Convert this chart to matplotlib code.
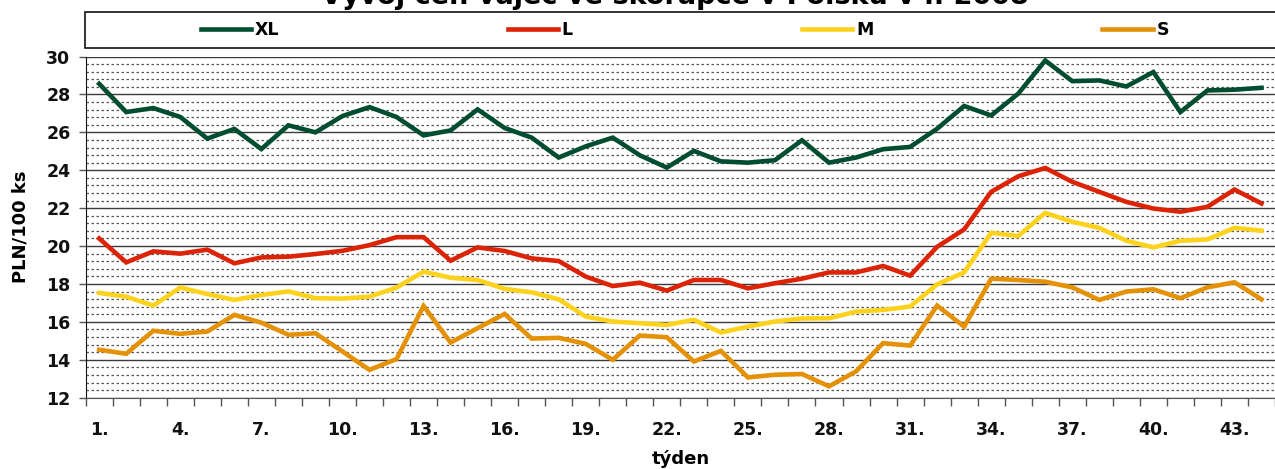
import numpy as np
import matplotlib
matplotlib.use("Agg")
import matplotlib.pyplot as plt
from matplotlib.patches import Rectangle
from matplotlib.ticker import MultipleLocator

# tydny 1..44
weeks = list(range(1, 45))

xl = [28.56, 27.07, 27.28, 26.81, 25.67, 26.18, 25.12, 26.37, 26.00, 26.86, 27.33,
      26.81, 25.84, 26.10, 27.21, 26.23, 25.72, 24.67, 25.26, 25.72, 24.79, 24.14,
      25.02, 24.47, 24.40, 24.53, 25.58, 24.40, 24.67, 25.11, 25.23, 26.19, 27.39,
      26.89, 28.04, 29.79, 28.70, 28.74, 28.42, 29.18, 27.07, 28.21, 28.25, 28.35]
l = [20.40, 19.14, 19.72, 19.60, 19.81, 19.09, 19.40, 19.44, 19.58, 19.75, 20.05,
     20.47, 20.47, 19.23, 19.93, 19.74, 19.35, 19.21, 18.39, 17.89, 18.07, 17.65,
     18.21, 18.21, 17.77, 18.04, 18.28, 18.61, 18.61, 18.95, 18.44, 19.96, 20.88,
     22.86, 23.68, 24.12, 23.39, 22.86, 22.33, 21.98, 21.81, 22.07, 22.98, 22.25]
m = [17.53, 17.33, 16.86, 17.81, 17.47, 17.16, 17.42, 17.61, 17.25, 17.23, 17.33,
     17.81, 18.65, 18.33, 18.21, 17.74, 17.56, 17.19, 16.28, 16.02, 15.93, 15.84,
     16.11, 15.44, 15.75, 16.02, 16.18, 16.19, 16.54, 16.63, 16.81, 17.98, 18.61,
     20.70, 20.53, 21.75, 21.28, 20.96, 20.28, 19.93, 20.28, 20.35, 20.96, 20.81]
s = [14.53, 14.32, 15.53, 15.37, 15.49, 16.37, 15.96, 15.32, 15.40, 14.44, 13.47,
     14.04, 16.84, 14.91, 15.67, 16.42, 15.12, 15.16, 14.84, 14.00, 15.28, 15.19,
     13.91, 14.47, 13.07, 13.21, 13.25, 12.60, 13.39, 14.88, 14.75, 16.86, 15.75,
     18.28, 18.21, 18.12, 17.82, 17.16, 17.60, 17.72, 17.25, 17.82, 18.09, 17.19]

series_names = ["XL", "L", "M", "S"]
series_colors = ["#004d30", "#dc2306", "#fdd21c", "#e59106"]
label_weeks = weeks[::3]
tick_labels = [str(w) + "." for w in label_weeks]

title = "Vývoj cen vajec ve skořápce v Polsku v r. 2008"

plt.rcParams['font.family'] = ['DejaVu Sans']

fig = plt.figure(figsize=(12.75, 4.69), dpi=100)
ax = fig.add_axes([0.0672, 0.152, 1 - 0.0672, 0.8795 - 0.152])

lines = []
for vals, name, col in zip([xl, l, m, s], series_names, series_colors):
    ln, = ax.plot(weeks, vals, color=col, lw=3.3, label=name, solid_joinstyle='miter')
    lines.append(ln)

ax.set_ylim(12, 30)
ax.set_xlim(0.5, 44.05)

# mrizka - plne cary po 2, carkovane po 0.4
ax.yaxis.set_major_locator(MultipleLocator(2))
ax.yaxis.set_minor_locator(MultipleLocator(0.4))
ax.grid(which='major', axis='y', color='#3a3a3a', lw=1.0)
ax.grid(which='minor', axis='y', color='#555555', lw=0.9, linestyle=(0, (2, 2)))
ax.set_axisbelow(True)
ax.tick_params(axis='y', which='minor', length=0)
ax.tick_params(axis='y', which='major', length=5, width=1, color='#555555', pad=6)

# osa x - carky mezi kategoriemi, popisky kazdy 3. tyden
ax.set_xticks(np.arange(0.5, 45, 1))
ax.set_xticklabels([])
ax.set_xticks(label_weeks, minor=True)
ax.set_xticklabels(tick_labels, minor=True)
ax.tick_params(axis='x', which='major', length=6, width=1, color='#555555', direction='out')
ax.tick_params(axis='x', which='minor', length=0, pad=17)

for lab in ax.get_yticklabels() + ax.get_xticklabels(minor=True):
    lab.set_fontsize(12.5)
    lab.set_fontweight('bold')
    lab.set_color('#111111')

ax.spines['right'].set_visible(False)
ax.spines['top'].set_visible(False)
ax.spines['left'].set_color('#111111')
ax.spines['bottom'].set_color('#555555')

ax.set_ylabel("PLN/100 ks", fontsize=13, fontweight='bold', labelpad=12)
ax.set_xlabel("týden", fontsize=13, fontweight='bold', labelpad=8)

# nadpis je nahore orizly
fig.text(0.529, 0.991, title, ha='center', va='baseline', fontsize=19.5, fontweight='bold')

# ramecek legendy
box = Rectangle((85 / 1275, 1 - 48 / 469), 1.0, 36 / 469, transform=fig.transFigure,
                facecolor='white', edgecolor='#111111', lw=1.2, clip_on=False)
fig.patches.append(box)
leg = fig.legend(handles=lines, labels=series_names, loc='center', ncol=4,
                 bbox_to_anchor=(0.537, 1 - 30 / 469), frameon=False,
                 handlelength=2.9, handletextpad=0.2, columnspacing=13.2,
                 prop={'size': 12.5, 'weight': 'bold'})

fig.savefig("out.png", dpi=100)
